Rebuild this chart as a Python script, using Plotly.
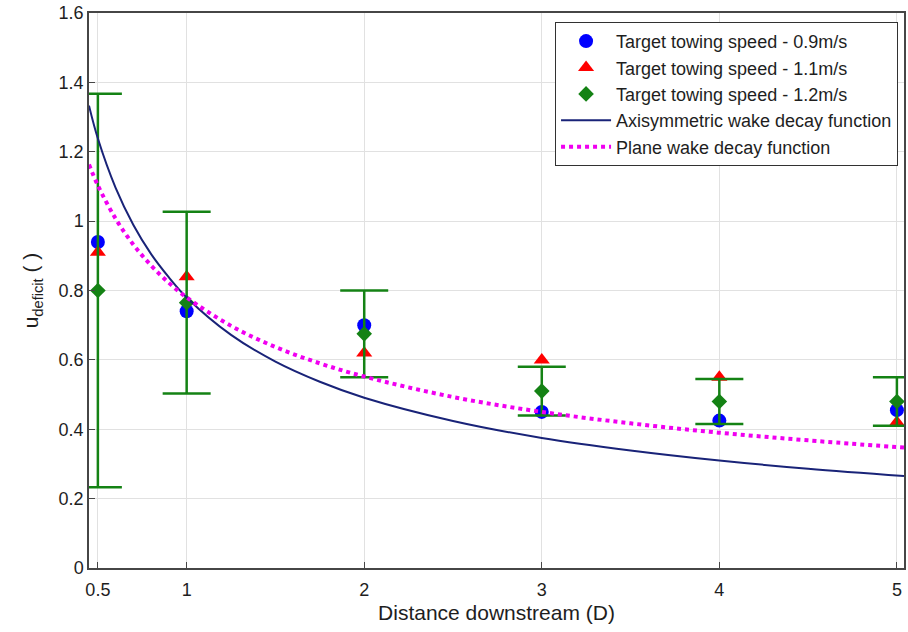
import plotly.graph_objects as go

# ---- data ----
x_pos = [0.5, 1, 2, 3, 4, 5]
speed_09 = [0.94, 0.74, 0.70, 0.45, 0.425, 0.455]
speed_11 = [0.91, 0.84, 0.62, 0.60, 0.55, 0.42]
speed_12 = [0.80, 0.765, 0.675, 0.51, 0.48, 0.48]
speed_12_err = [0.567, 0.262, 0.125, 0.07, 0.065, 0.07]

curve_x = [0.45, 0.5, 0.6, 0.7, 0.8, 0.9, 1.0, 1.25, 1.5, 1.75, 2.0, 2.5, 3.0, 3.5, 4.0, 4.5, 5.04]
axisym_y = [1.333, 1.238, 1.096, 0.989, 0.905, 0.838, 0.78, 0.672, 0.595, 0.537, 0.491,
            0.424, 0.375, 0.339, 0.310, 0.286, 0.265]
plane_y = [1.163, 1.103, 1.007, 0.932, 0.872, 0.822, 0.78, 0.698, 0.637, 0.590, 0.552,
           0.493, 0.450, 0.417, 0.390, 0.368, 0.347]

x_ticks = [0.5, 1, 2, 3, 4, 5]
x_tick_text = ["0.5", "1", "2", "3", "4", "5"]
y_ticks = [0, 0.2, 0.4, 0.6, 0.8, 1.0, 1.2, 1.4, 1.6]
y_tick_text = ["0", "0.2", "0.4", "0.6", "0.8", "1", "1.2", "1.4", "1.6"]

GREEN = "rgb(20,130,20)"
FONT = "Liberation Sans, Arial, sans-serif"

fig = go.Figure()
fig.add_trace(go.Scatter(
    x=x_pos, y=speed_09, mode="markers", name="Target towing speed - 0.9m/s",
    marker=dict(symbol="circle", size=14, color="rgb(0,0,255)")))
fig.add_trace(go.Scatter(
    x=x_pos, y=speed_11, mode="markers", name="Target towing speed - 1.1m/s",
    marker=dict(symbol="triangle-up", size=14, color="rgb(255,0,0)")))
fig.add_trace(go.Scatter(
    x=x_pos, y=speed_12, mode="markers", name="Target towing speed - 1.2m/s",
    marker=dict(symbol="diamond", size=12, color=GREEN),
    error_y=dict(type="data", array=speed_12_err, visible=True,
                 color=GREEN, thickness=2.5, width=24)))
fig.add_trace(go.Scatter(
    x=curve_x, y=axisym_y, mode="lines", name="Axisymmetric wake decay function",
    line=dict(color="rgb(25,35,120)", width=2, shape="spline")))
fig.add_trace(go.Scatter(
    x=curve_x, y=plane_y, mode="lines", name="Plane wake decay function",
    line=dict(color="rgb(240,0,240)", width=4, dash="dot", shape="spline")))

axis_common = dict(
    showline=True, mirror=True, linecolor="rgb(70,70,70)", linewidth=1.5,
    ticks="inside", ticklen=6, tickcolor="rgb(70,70,70)",
    showgrid=True, gridcolor="rgb(225,225,225)", gridwidth=1,
    zeroline=False, tickfont=dict(size=18, color="rgb(30,30,30)", family=FONT),
)

fig.update_layout(
    width=908, height=632,
    margin=dict(l=89, r=2, t=13, b=64),
    paper_bgcolor="white", plot_bgcolor="white",
    font=dict(family=FONT, color="rgb(30,30,30)"),
    xaxis=dict(range=[0.45, 5.04], tickvals=x_ticks, ticktext=x_tick_text,
               ticklabelstandoff=5,
               title=dict(text="Distance downstream (D)", font=dict(size=21), standoff=6),
               **axis_common),
    yaxis=dict(range=[0, 1.6], tickvals=y_ticks, ticktext=y_tick_text,
               title=dict(text="u<sub>deficit</sub> ( )", font=dict(size=21), standoff=14),
               **axis_common),
    legend=dict(x=0.9927, y=0.984, xanchor="right", yanchor="top",
                bgcolor="white", bordercolor="rgb(50,50,50)", borderwidth=1,
                font=dict(size=18, family=FONT), tracegroupgap=0, itemwidth=50),
    showlegend=True,
)

fig.write_html("out.html")
